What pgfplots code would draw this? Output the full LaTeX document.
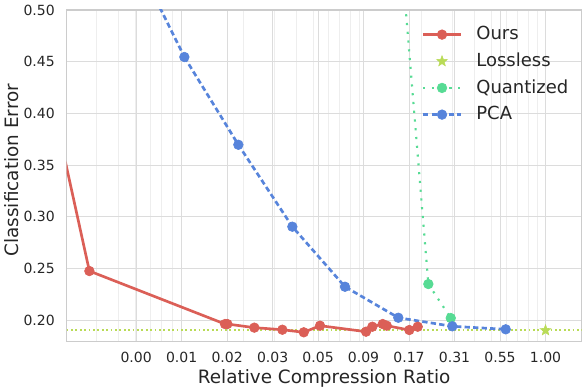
\documentclass[border=0pt]{standalone}
\usepackage{fontspec}
\setmainfont{DejaVu Sans}
\usepackage{pgfplots}
\pgfplotsset{compat=1.18}
\definecolor{oursc}{HTML}{DB5F57}
\definecolor{lossc}{HTML}{B9DB57}
\definecolor{quantc}{HTML}{57DB94}
\definecolor{pcac}{HTML}{5784DB}
\definecolor{gridc}{HTML}{DCDCDC}
\definecolor{minorc}{HTML}{EEEEEE}
\definecolor{spinec}{HTML}{CCCCCC}
\definecolor{labelc}{HTML}{262626}
\pgfdeclareplotmark{fstar}{%
  \pgfpathmoveto{\pgfpointpolar{90}{\pgfplotmarksize}}%
  \pgfpathlineto{\pgfpointpolar{126}{0.42\pgfplotmarksize}}%
  \pgfpathlineto{\pgfpointpolar{162}{\pgfplotmarksize}}%
  \pgfpathlineto{\pgfpointpolar{198}{0.42\pgfplotmarksize}}%
  \pgfpathlineto{\pgfpointpolar{234}{\pgfplotmarksize}}%
  \pgfpathlineto{\pgfpointpolar{270}{0.42\pgfplotmarksize}}%
  \pgfpathlineto{\pgfpointpolar{306}{\pgfplotmarksize}}%
  \pgfpathlineto{\pgfpointpolar{342}{0.42\pgfplotmarksize}}%
  \pgfpathlineto{\pgfpointpolar{18}{\pgfplotmarksize}}%
  \pgfpathlineto{\pgfpointpolar{54}{0.42\pgfplotmarksize}}%
  \pgfpathclose
  \pgfusepathqfillstroke}
\pgfplotsset{
  mylegend/.style={legend image code/.code={\draw[mark repeat=2,mark phase=2,##1] plot coordinates {(0pt,0pt) (14.25pt,0pt) (28.5pt,0pt)};}},
}
\begin{document}
\begin{tikzpicture}
\path[use as bounding box] (-50.025pt,-36.225pt) rectangle (388.725pt,256.275pt);
\begin{axis}[
  at={(0,0)}, anchor=south west,
  scale only axis, width=386.25pt, height=248.775pt,
  xmode=log, xmin=0.00204, xmax=1.597, ymin=0.179, ymax=0.5,
  xtick={0.005009,0.009023,0.01625,0.02928,0.05273,0.09499,0.17110,0.30820,0.55516,1},
  xticklabels={0.00,0.01,0.02,0.03,0.05,0.09,0.17,0.31,0.55,1.00},
  minor xtick={0.003,0.004,0.005,0.006,0.007,0.008,0.009,0.02,0.03,0.04,0.05,0.06,0.07,0.08,0.09,0.2,0.3,0.4,0.5,0.6,0.7,0.8,0.9},
  ytick={0.20,0.25,0.30,0.35,0.40,0.45,0.50},
  yticklabels={0.20,0.25,0.30,0.35,0.40,0.45,0.50},
  xmajorgrids, ymajorgrids, xminorgrids,
  major grid style={color=gridc, line width=0.75pt},
  minor grid style={color=minorc, line width=0.75pt},
  axis line style={color=spinec, line width=0.9pt},
  major tick length=0pt, minor tick length=0pt,
  tick style={draw=none},
  ticklabel style={color=labelc, font=\fontsize{10.5}{12}\selectfont},
  xticklabel style={anchor=base, inner sep=0pt, yshift=-15.45pt},
  yticklabel style={anchor=east, inner sep=0pt, xshift=-8.8pt},
  xlabel={Relative Compression Ratio},
  ylabel={Classification Error},
  label style={color=labelc, font=\fontsize{13.8}{16}\selectfont},
  xlabel style={at={(axis description cs:0.5,0)}, anchor=base, inner sep=0pt, yshift=-31.2pt},
  ylabel style={at={(axis description cs:-0.0945,0.517)}, anchor=base, inner sep=0pt},
  mylegend,
  legend cell align=left,
  legend style={at={(0.6893,0.966)}, anchor=north west, draw=none, fill=none,
    inner sep=0pt, outer sep=0pt, row sep=0pt,
    font=\fontsize{13.5}{16}\selectfont, text=labelc,
    nodes={inner sep=0pt, text height=14pt, text depth=6pt},
    /tikz/every odd column/.append style={column sep=10.5pt}},
]
% lossless reference line
\addplot[lossc, line width=1.3pt, dash pattern=on 1.3pt off 2pt, forget plot] coordinates {(0.00204,0.19) (1.597,0.19)};
% Ours: segment from off-axis point
\addplot[oursc, line width=2pt, forget plot] coordinates {(0.0018,0.3900) (0.002736,0.2474)};
\addplot[oursc, line width=2pt, mark=*, mark size=3.6pt, mark options={solid, fill=oursc, line width=0.5pt}] coordinates {
(0.002736,0.2474) (0.01582,0.1961) (0.01631,0.1961) (0.02312,0.1926) (0.03322,0.1906)
(0.04381,0.1881) (0.05408,0.1945) (0.09808,0.1887) (0.1064,0.1935) (0.1217,0.1961)
(0.1282,0.1945) (0.1717,0.1903) (0.1914,0.1935)};
\addlegendentry{Ours}
\addplot[only marks, mylegend, lossc, mark=fstar, mark size=4.2pt, mark options={fill=lossc, line width=0.4pt}] coordinates {(1.0,0.19)};
\addlegendentry{Lossless}
\addplot[quantc, line width=1.6pt, dash pattern=on 1.6pt off 5pt, forget plot] coordinates {(0.15,0.5808) (0.2196,0.2348)};
\addplot[quantc, line width=1.6pt, dash pattern=on 1.6pt off 5pt, mark=*, mark size=3.6pt, mark options={solid, fill=quantc, line width=0.5pt}] coordinates {(0.2196,0.2348) (0.2934,0.2019)};
\addlegendentry{Quantized}
\addplot[pcac, line width=2pt, dash pattern=on 4pt off 2.4pt, forget plot] coordinates {(0.0046,0.5616) (0.00935,0.4545)};
\addplot[pcac, line width=2pt, dash pattern=on 4pt off 2.4pt, mark=*, mark size=3.6pt, mark options={solid, fill=pcac, line width=0.5pt}] coordinates {
(0.00935,0.4545) (0.01880,0.3696) (0.03780,0.2903) (0.07470,0.2322) (0.1489,0.2022) (0.2995,0.1939) (0.5975,0.1910)};
\addlegendentry{PCA}
\end{axis}
\end{tikzpicture}
\end{document}
